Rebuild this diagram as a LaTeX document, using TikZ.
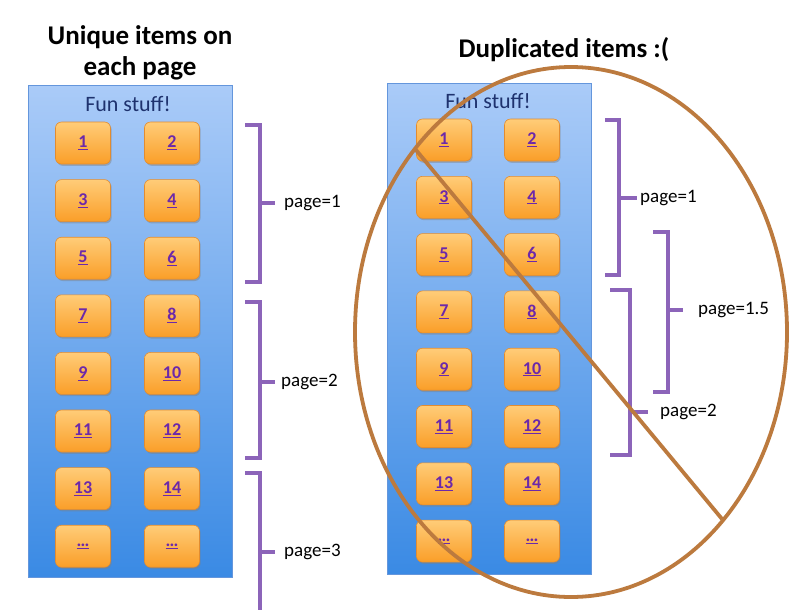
\documentclass[tikz,border=0pt]{standalone}
\usepackage{fontspec}
\setmainfont{Carlito}
\usetikzlibrary{shadows}
\definecolor{panelTop}{RGB}{170,203,248}
\definecolor{panelBot}{RGB}{58,138,228}
\definecolor{panelEdge}{RGB}{100,150,220}
\definecolor{btnTop}{RGB}{255,204,120}
\definecolor{btnBot}{RGB}{250,158,40}
\definecolor{btnEdge}{RGB}{226,140,48}
\definecolor{linkPurple}{RGB}{108,40,170}
\definecolor{brkPurple}{RGB}{140,100,185}
\definecolor{ringBrown}{RGB}{188,122,62}
\definecolor{funBlue}{RGB}{30,50,110}
\tikzset{
  panel/.style={draw=panelEdge, line width=0.8pt, top color=panelTop, bottom color=panelBot,
    minimum width=204pt, minimum height=492pt, inner sep=0pt},
  btn/.style={draw=btnEdge, line width=0.6pt, rounded corners=6pt, top color=btnTop, bottom color=btnBot,
    minimum width=55pt, minimum height=42pt, inner sep=0pt,
    drop shadow={opacity=0.45, shadow xshift=1.2pt, shadow yshift=-1.8pt},
    font=\fontsize{18}{20}\selectfont\bfseries, text=linkPurple},
  funtxt/.style={font=\fontsize{22}{24}\selectfont, text=funBlue, inner sep=0pt},
  title/.style={font=\fontsize{27}{31}\selectfont\bfseries, align=center, inner sep=0pt},
  brk/.style={draw=brkPurple, line width=3.8pt, line cap=butt, line join=miter},
  plabel/.style={font=\fontsize{19}{21}\selectfont, anchor=west, inner sep=0pt},
  ring/.style={draw=ringBrown, line width=3.8pt},
}
\newcommand{\lnk}[1]{\underline{#1}}
\begin{document}
\begin{tikzpicture}[x=1pt,y=-1pt]
\useasboundingbox[fill=white] (0,0) rectangle (795,614);

% ---------- Left side ----------
\node[title] (titleL) at (140,53) {Unique items on\\each page};
\node[panel] (panelL) at (130,331.5) {};
\node[funtxt] (funL) at (128,104) {Fun stuff!};
\foreach \a/\b [count=\i from 0] in {1/2,3/4,5/6,7/8,9/10,11/12,13/14,\dots/\dots}{
  \pgfmathsetmacro{\yy}{143+57.6*\i}
  \node[btn] (L\i a) at (83,\yy) {\lnk{\a}};
  \node[btn] (L\i b) at (172,\yy) {\lnk{\b}};
}

% left brackets
\node[plabel] (pL1) at (284,203) {page=1};
\node[plabel] (pL2) at (281,382) {page=2};
\node[plabel] (pL3) at (284,552) {page=3};
\draw[brk] (245,125) -| (260,282) -- (245,282);
\draw[brk] (260,203) -- ([xshift=-9pt]pL1.west);
\draw[brk] (245,302) -| (260,458) -- (245,458);
\draw[brk] (260,382) -- ([xshift=-6pt]pL2.west);
\draw[brk] (245,473) -| (260,610);
\draw[brk] (260,552) -- ([xshift=-9pt]pL3.west);

% ---------- Right side ----------
\node[title] (titleR) at (564,50) {Duplicated items :(};
\node[panel, minimum height=491pt] (panelR) at (489,329) {};
\node[funtxt] (funR) at (488,101) {Fun stuff!};
\foreach \a/\b [count=\i from 0] in {1/2,3/4,5/6,7/8,9/10,11/12,13/14,\dots/\dots}{
  \pgfmathsetmacro{\yy}{140+57.3*\i}
  \node[btn] (R\i a) at (444,\yy) {\lnk{\a}};
  \node[btn] (R\i b) at (532,\yy) {\lnk{\b}};
}

% right brackets
\node[plabel] (pR1) at (640,198) {page=1};
\node[plabel] (pR15) at (698,310) {page=1.5};
\node[plabel] (pR2) at (660,412) {page=2};
\draw[brk] (605,120) -| (619,275) -- (605,275);
\draw[brk] (619,198) -- ([xshift=-3pt]pR1.west);
\draw[brk] (653,232) -| (668,392) -- (653,392);
\draw[brk] (668,310) -- ([xshift=-15pt]pR15.west);
\draw[brk] (610,290) -| (630,455) -- (610,455);
\draw[brk] (630,412) -- ([xshift=-12pt]pR2.west);

% no-sign
\coordinate (ringC) at (571,332);
\coordinate (slashA) at (416,150);
\coordinate (slashB) at (722,519);
\draw[ring] (ringC) ellipse [x radius=216pt, y radius=265pt];
\draw[ring] (slashA) -- (slashB);
\end{tikzpicture}
\end{document}
